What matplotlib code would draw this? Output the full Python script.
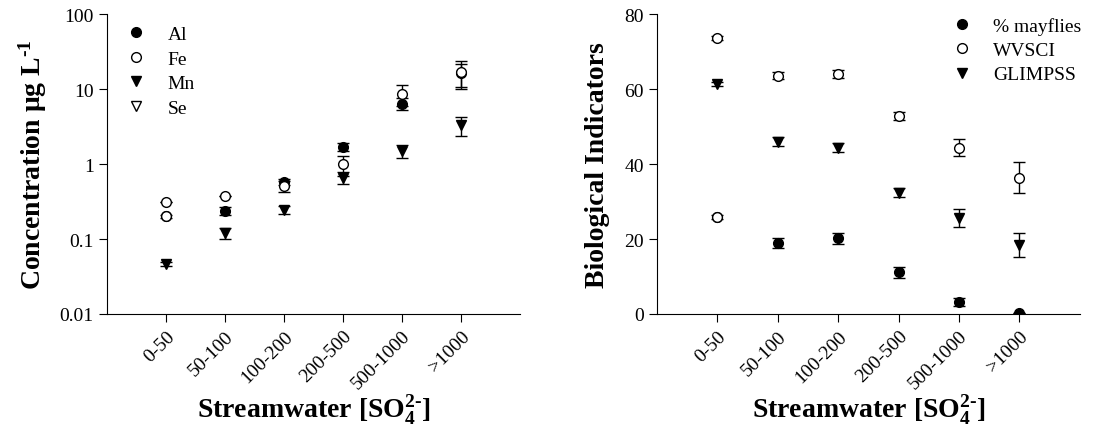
import matplotlib
matplotlib.use("Agg")
import matplotlib.pyplot as plt
from matplotlib.lines import Line2D
import numpy as np

plt.rcParams['font.family'] = ['Liberation Serif', 'DejaVu Serif']
plt.rcParams['mathtext.fontset'] = 'custom'
plt.rcParams['mathtext.rm'] = 'Liberation Serif:bold'
plt.rcParams['mathtext.bf'] = 'Liberation Serif:bold'
plt.rcParams['mathtext.default'] = 'rm'

# categories of streamwater sulfate
cats = ["0-50", "50-100", "100-200", "200-500", "500-1000", ">1000"]

# left panel: metal concentrations (ug/L), mean and error
al = [0.20, 0.236, 0.58, 1.70, 6.4, 16.3]
al_err = [0.01, 0.03, 0.06, 0.2, 1.2, 5.5]
fe = [0.31, 0.37, 0.51, 1.0, 8.6, 17.0]
fe_err = [0.0, 0.0, 0.08, 0.3, 2.7, 7.0]
mn = [0.046, 0.12, 0.244, 0.66, 1.5, 3.3]
mn_err = [0.003, 0.02, 0.03, 0.12, 0.28, 0.9]
se = [np.nan] * 6

# right panel: biological indicators
mayflies = [25.8, 18.9, 20.2, 11.1, 3.1, 0.2]
mayflies_err = [0.5, 1.3, 1.5, 1.4, 1.1, 0.0]
wvsci = [73.7, 63.6, 64.0, 52.9, 44.4, 36.4]
wvsci_err = [0.5, 1.0, 1.0, 1.1, 2.3, 4.2]
glimpss = [61.3, 46.0, 44.4, 32.4, 25.6, 18.5]
glimpss_err = [0.5, 1.1, 1.1, 1.1, 2.3, 3.2]

x = np.arange(1, len(cats) + 1)

fig = plt.figure(figsize=(11.07, 4.39), dpi=100)
ax1 = fig.add_axes([0.0967, 0.2825, 0.373, 0.683])
ax2 = fig.add_axes([0.5935, 0.2825, 0.382, 0.683])

ms = 7
eb = dict(ls='none', capsize=4, elinewidth=1, capthick=1, ecolor='k', ms=ms, mec='k', mew=1)


def series(ax, y, err, marker, face, first_open=False):
    y = np.asarray(y, dtype=float)
    ax.errorbar(x, y, yerr=err, marker=marker, mfc=face, **eb)
    if first_open:
        # the first point is drawn hollow in the original
        ax.plot(x[:1], y[:1], ls='none', marker=marker, ms=ms, mfc='white',
                mec='k', mew=1, zorder=5)
    return Line2D([], [], ls='none', marker=marker, ms=ms, mfc=face, mec='k', mew=1)


leg_kw = dict(loc='upper left', frameon=False, fontsize=14, handletextpad=1.0,
              labelspacing=0.35, handlelength=1.2)

# ---- left panel ----
h_al = series(ax1, al, al_err, 'o', 'k', first_open=True)
h_fe = series(ax1, fe, fe_err, 'o', 'white')
h_mn = series(ax1, mn, mn_err, 'v', 'k')
ax1.plot(x, se, ls='none', marker='v', ms=ms, mfc='white', mec='k', mew=1)
h_se = Line2D([], [], ls='none', marker='v', ms=ms, mfc='white', mec='k', mew=1)

ax1.set_yscale('log')
ax1.set_ylim(0.01, 100)
ax1.set_yticks([0.01, 0.1, 1, 10, 100])
ax1.set_yticklabels(['0.01', '0.1', '1', '10', '100'])
ax1.yaxis.set_minor_locator(matplotlib.ticker.NullLocator())
ax1.set_ylabel(r'Concentration μg L$^{\text{-1}}$', fontsize=20, fontweight='bold', labelpad=8)
ax1.legend([h_al, h_fe, h_mn, h_se], ['Al', 'Fe', 'Mn', 'Se'],
           bbox_to_anchor=(0.0, 1.02), **leg_kw)

# ---- right panel ----
h_may = series(ax2, mayflies, mayflies_err, 'o', 'k', first_open=True)
h_wv = series(ax2, wvsci, wvsci_err, 'o', 'white')
h_gl = series(ax2, glimpss, glimpss_err, 'v', 'k')

ax2.set_ylim(0, 80)
ax2.set_yticks([0, 20, 40, 60, 80])
ax2.set_ylabel('Biological Indicators', fontsize=20, fontweight='bold', labelpad=10)
ax2.legend([h_may, h_wv, h_gl], ['% mayflies', 'WVSCI', 'GLIMPSS'],
           bbox_to_anchor=(0.653, 1.05), **leg_kw)

for ax in (ax1, ax2):
    ax.set_xlim(0, 7)
    ax.set_xticks(x)
    ax.set_xticklabels(cats, rotation=45, ha='right', rotation_mode='anchor', fontsize=14)
    ax.tick_params(axis='y', labelsize=14, direction='out', length=6)
    ax.tick_params(axis='x', direction='out', length=6)
    ax.spines['top'].set_visible(False)
    ax.spines['right'].set_visible(False)
    ax.set_xlabel(r'Streamwater [SO$_4^{\text{2-}}$]', fontsize=20, fontweight='bold')
    ax.xaxis.set_label_coords(0.5, -0.262)

fig.savefig('out.png', dpi=100)
